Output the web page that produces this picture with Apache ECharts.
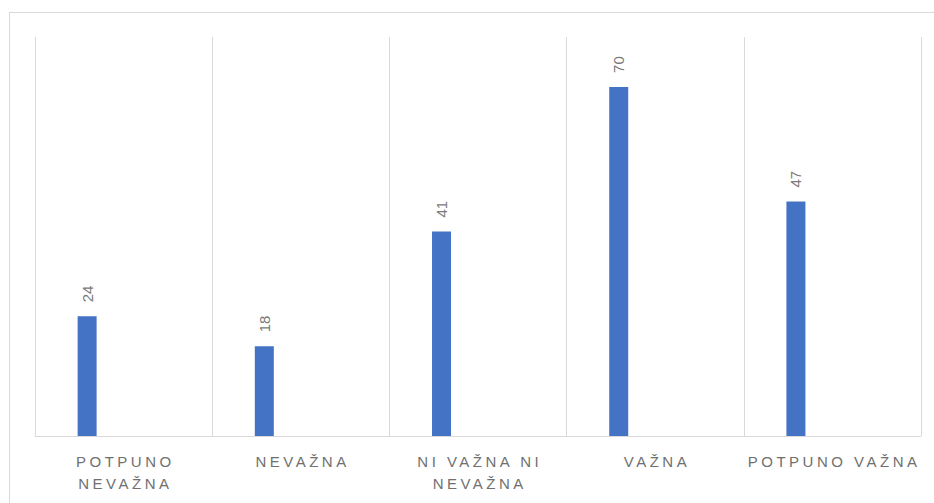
<!DOCTYPE html>
<html>
<head>
<meta charset="utf-8">
<script src="https://cdn.jsdelivr.net/npm/echarts@6/dist/echarts.min.js"></script>
<style>
html,body{margin:0;padding:0;background:#fff;}
#wrap{position:relative;width:934px;height:503px;overflow:hidden;}
#frame{position:absolute;left:9px;top:12px;width:940px;height:520px;border:1px solid #d9d9d9;box-sizing:border-box;}
#chart{position:absolute;left:0;top:0;width:934px;height:503px;}
</style>
</head>
<body>
<div id="wrap"><div id="frame"></div><div id="chart"></div></div>
<script>
const categories = ["POTPUNO\nNEVAŽNA", "NEVAŽNA", "NI VAŽNA NI\nNEVAŽNA", "VAŽNA", "POTPUNO VAŽNA"];
const values = [24, 18, 41, 70, 47];
const emptySeries = ['-', '-', '-', '-', '-'];

const chart = echarts.init(document.getElementById('chart'), null, {renderer: 'svg'});
chart.setOption({
  animation: false,
  grid: {left: 35, right: 13, top: 37, bottom: 67, containLabel: false},
  xAxis: {
    type: 'category',
    data: categories,
    boundaryGap: true,
    axisLine: {show: true, lineStyle: {color: '#d9d9d9', width: 1}},
    axisTick: {show: false},
    splitLine: {show: true, interval: 0, lineStyle: {color: '#d9d9d9', width: 1}},
    axisLabel: {
      interval: 0, margin: 14, color: '#707070',
      fontFamily: 'Liberation Sans', fontSize: 15, lineHeight: 22
    }
  },
  yAxis: {
    type: 'value', min: 0, max: 80, interval: 10,
    show: false,
    splitLine: {show: false}
  },
  series: [
    {
      type: 'bar', data: values, barWidth: 19, barGap: '284%',
      itemStyle: {color: '#4472c4'},
      label: {
        show: true, position: 'top', distance: 14, rotate: 90,
        align: 'left', verticalAlign: 'middle',
        color: '#7a7a7a', fontFamily: 'Liberation Sans', fontSize: 15
      }
    },
    {type: 'bar', data: emptySeries, barWidth: 19}
  ]
});

function spaceLabels(){
  const words = ['POTPUNO','NEVAŽNA','NI VAŽNA NI','VAŽNA','POTPUNO VAŽNA'];
  document.querySelectorAll('#chart svg text').forEach(t => {
    const s = t.textContent.trim();
    if (words.indexOf(s) >= 0) {
      t.style.letterSpacing = '3.5px';
      t.setAttribute('dx', '1.75');
    }
  });
}
spaceLabels();
chart.on('finished', spaceLabels);
</script>
</body>
</html>
